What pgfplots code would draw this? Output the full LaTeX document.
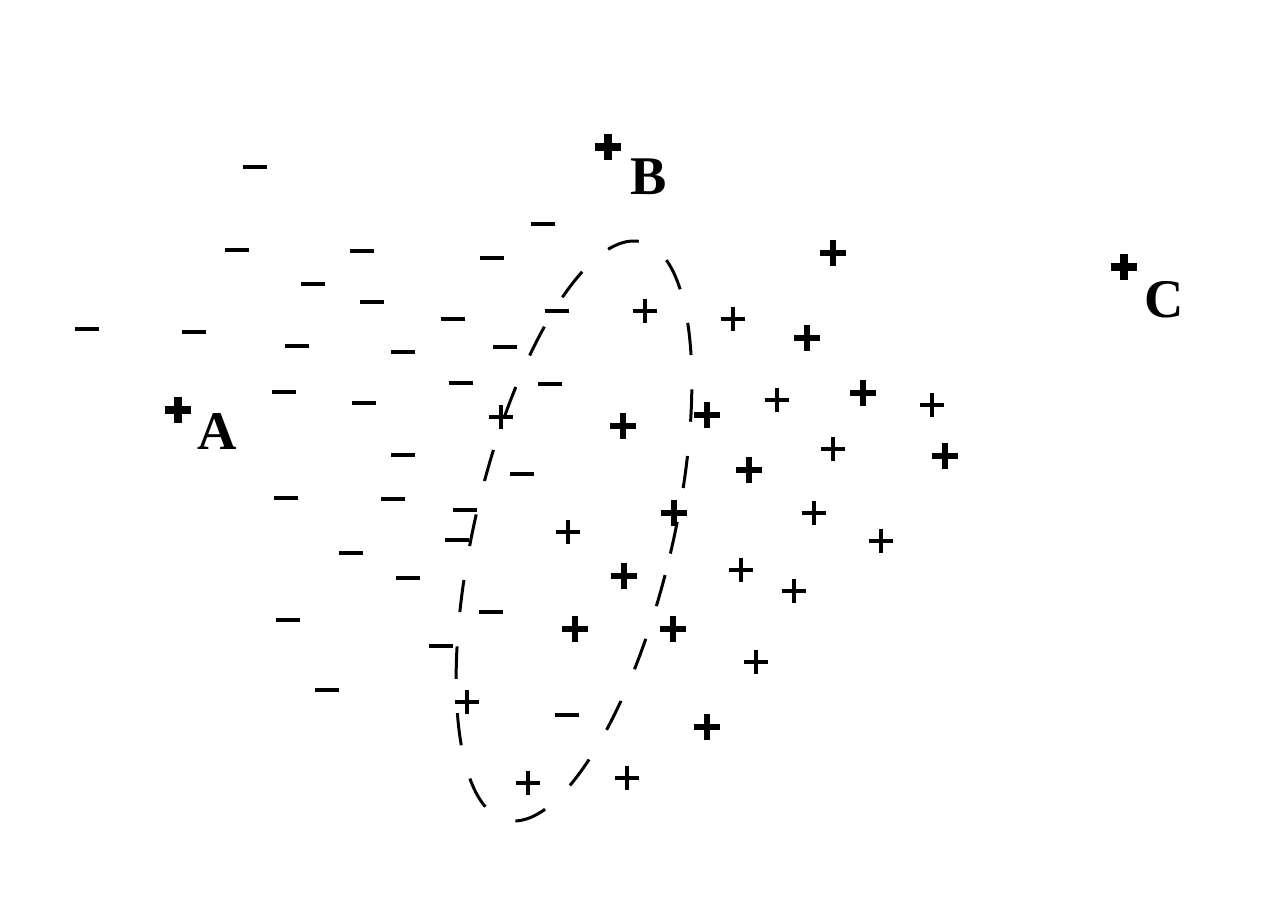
\documentclass[border=0pt]{standalone}
\usepackage{pgfplots}
\pgfplotsset{compat=1.18}
\usepackage{fontspec}
\setmainfont{Liberation Serif}
\begin{document}
\begin{tikzpicture}
\begin{axis}[
  width=12.72cm, height=9.18cm, scale only axis,
  xmin=0, xmax=1272, ymin=0, ymax=918,
  hide axis, clip=false,
]
\path (axis cs:0,0) rectangle (axis cs:1272,918);
% negative examples
\addplot[only marks, mark=-, mark size=3.5pt, mark options={line width=1.1pt, black}] coordinates {
(255,751) (237,668) (362,667) (492,660) (543,694) (313,634) (372,616)
(87,589) (194,586) (453,599) (557,607) (297,572) (403,566) (505,571)
(461,535) (550,534) (284,526) (364,515) (403,463) (522,444) (286,420)
(393,419) (465,408) (457,378) (351,365) (408,340) (491,306) (288,298)
(441,272) (327,228) (567,203)
};
% positive examples, thin
\addplot[only marks, mark=+, mark size=3.5pt, mark options={line width=0.9pt, black}] coordinates {
(645,607) (733,599) (777,518) (932,513) (833,469) (814,405) (881,377)
(741,348) (794,327) (756,256) (568,386) (467,216) (528,135) (627,140)
(501,501)
};
% positive examples, bold
\addplot[only marks, mark=+, mark size=3.6pt, mark options={line width=1.5pt, black}] coordinates {
(833,665) (807,580) (707,503) (623,492) (863,525) (945,462) (749,448)
(674,405) (624,342) (575,289) (673,289) (707,191)
};
% labelled points
\addplot[only marks, mark=+, mark size=3.6pt, mark options={line width=2.3pt, black}] coordinates {
(178,508) (608,771) (1124,651)
};
\node[inner sep=0pt, font=\fontsize{15.5}{18}\selectfont\bfseries] at (axis cs:217,486) {A};
\node[inner sep=0pt, font=\fontsize{15.5}{18}\selectfont\bfseries] at (axis cs:649,741) {B};
\node[inner sep=0pt, font=\fontsize{15.5}{18}\selectfont\bfseries] at (axis cs:1164,618) {C};
% dashed ellipse
\draw[line width=0.85pt, dash pattern=on 9.2pt off 9.8pt, rotate around={-13.2:(axis cs:574,387)}]
  (axis cs:574,387) ellipse [x radius=99, y radius=297];
\end{axis}
\end{tikzpicture}
\end{document}
